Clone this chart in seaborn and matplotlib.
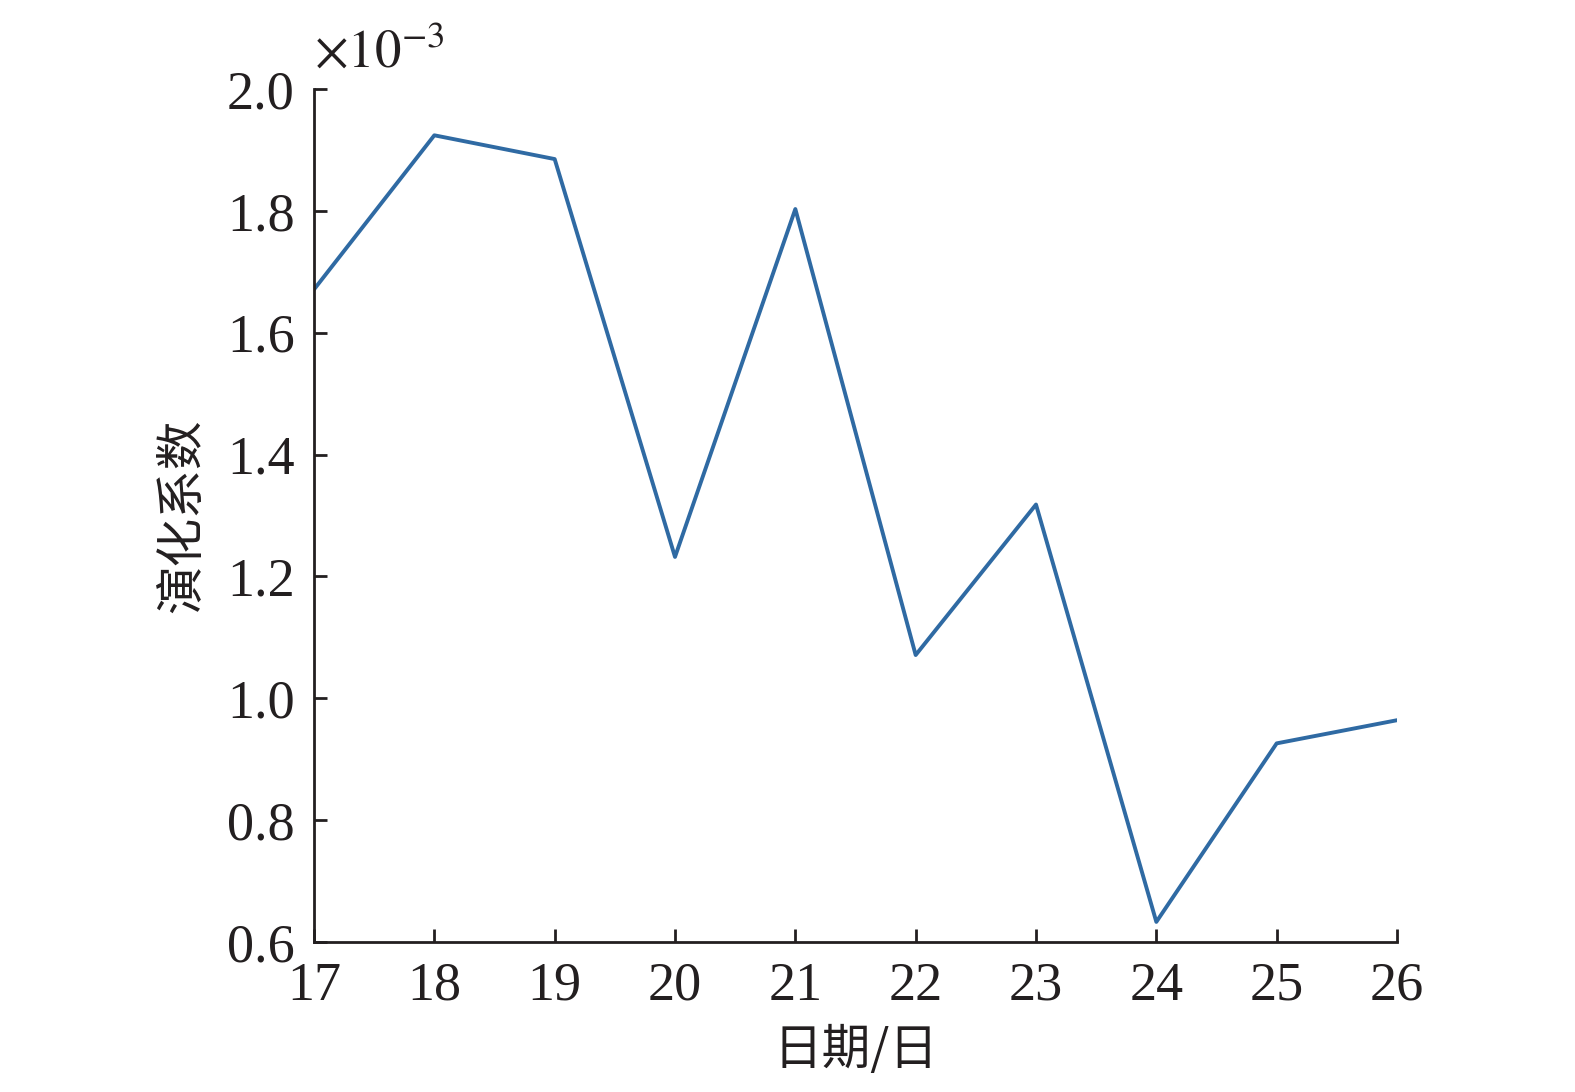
import matplotlib
matplotlib.use("Agg")
import matplotlib.pyplot as plt
import seaborn as sns
import pandas as pd

days = [17, 18, 19, 20, 21, 22, 23, 24, 25, 26]
coef = [1.671, 1.924, 1.885, 1.232, 1.803, 1.071, 1.318, 0.633, 0.926, 0.964]  # x10^-3
yticks = [0.6, 0.8, 1.0, 1.2, 1.4, 1.6, 1.8, 2.0]

sns.set_theme(style="ticks")
plt.rcParams['font.family'] = ['Liberation Serif', 'Noto Sans CJK SC']
plt.rcParams['mathtext.fontset'] = 'stix'

df = pd.DataFrame({"day": days, "coef": coef})

L, R, T, B = 314, 1397, 89, 942
fig = plt.figure(figsize=(15.75, 10.92), dpi=100)
ax = fig.add_axes([L/1575, 1-B/1092, (R-L)/1575, (B-T)/1092])
sns.lineplot(data=df, x="day", y="coef", ax=ax, color="#2f6aa3", linewidth=2.8)

ax.set_xlim(17, 26)
ax.set_ylim(0.6, 2.0)
ax.set_xticks(days)
ax.set_yticks(yticks)
ax.set_yticklabels([f"{v:.1f}" for v in yticks])
ax.tick_params(direction="in", length=9.5, width=2.0, labelsize=39, colors="#231f20")
ax.tick_params(axis="x", pad=14)
ax.tick_params(axis="y", pad=14)
for s in ["top", "right"]:
    ax.spines[s].set_visible(False)
for s in ["left", "bottom"]:
    ax.spines[s].set_linewidth(2.0)
    ax.spines[s].set_color("#231f20")

ax.set_xlabel("日期/日", fontsize=35, family=['Noto Sans CJK SC'], color="#231f20", labelpad=10)
ax.set_ylabel("演化系数", fontsize=35, family=['Noto Sans CJK SC'], color="#231f20", labelpad=14)

ax.text(0.0, 1.026, r"$\times10^{-3}$", transform=ax.transAxes, fontsize=38,
        ha="left", va="baseline", color="#231f20")

fig.savefig("out.png", dpi=100)
